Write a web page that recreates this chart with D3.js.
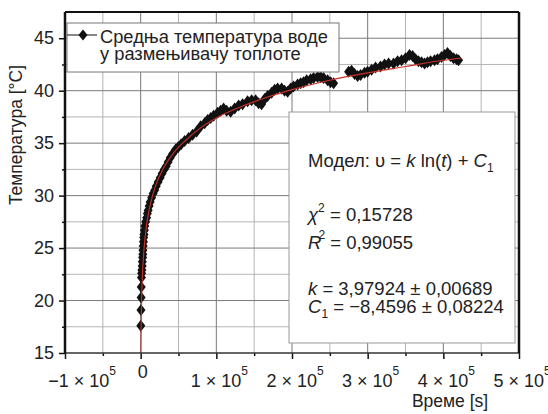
<!DOCTYPE html>
<html lang="sr">
<head>
<meta charset="UTF-8">
<title>Температура воде</title>
<style>
  body { margin: 0; background: #fff; }
  svg { display: block; font-family: "Liberation Sans", Arial, Helvetica, sans-serif; }
</style>
</head>
<body>
<svg id="chart"></svg>
<script src="https://cdnjs.cloudflare.com/ajax/libs/d3/7.8.5/d3.min.js"></script>
<script>

var timeData = [200, 400, 600, 800, 1000,
  1300, 1600, 2000, 2200, 2600, 2800, 3000, 3300, 3700, 4000, 4400, 4900, 5500, 6600, 7900,
  8900, 9900, 11200, 12500, 14500, 16500, 18500, 20500, 23100, 25800, 28400, 31100, 33700,
  36300, 39000, 42300, 46200, 49500, 53500, 58100, 63400, 68700, 74000,
  79300, 84500, 88500, 92500, 96400, 101700, 105700, 109600, 113600, 118900, 124200, 129500,
  134700, 141300, 146600, 151900, 155900, 159800, 163800, 167800, 173100, 177000, 181000,
  186300, 190200, 194200, 198200, 202100, 207400, 211400, 215300, 219300, 224600, 228500,
  233800, 237800, 241700, 247000, 251000, 255000,
  274800, 278700, 282700, 286700, 290600, 295900, 299900, 305200, 310400, 317000, 322300,
  327600, 334200, 339500, 344800, 350100, 355300, 359300, 363300, 367200, 371200, 375200,
  379100, 383100, 388400, 392300, 397600, 401600, 405500, 409500, 413500, 417400, 420100];
var tempData = [17.6, 19.1, 20.3, 21.3, 22.2,
  22.6, 22.9, 23.3, 23.7, 24.1, 24.4, 24.8, 25.2, 25.6, 26.0, 26.3, 26.7, 27.1, 27.5, 27.9,
  28.3, 28.6, 29.0, 29.4, 29.8, 30.2, 30.5, 30.9, 31.3, 31.7, 32.1, 32.5, 32.8,
  33.2, 33.6, 34.0, 34.4, 34.6, 34.9, 35.2, 35.5, 35.8, 36.1,
  36.6, 36.9, 37.2, 37.4, 37.6, 37.9, 38.1, 38.3, 38.1, 38.0, 38.3, 38.6,
  38.7, 39.0, 39.1, 39.1, 38.8, 38.7, 39.2, 39.5, 39.8, 40.1, 40.2,
  40.2, 40.0, 39.9, 40.2, 40.4, 40.6, 40.7, 40.8, 41.0, 41.1, 41.2,
  41.3, 41.3, 41.2, 41.0, 40.8, 40.7,
  41.8, 41.9, 41.6, 41.4, 41.5, 41.7, 41.8, 42.0, 42.2, 42.3, 42.5,
  42.6, 42.6, 42.8, 42.9, 43.1, 43.4, 43.3, 43.0, 42.8, 42.7, 42.6,
  42.7, 42.8, 42.9, 43.0, 43.2, 43.4, 43.6, 43.3, 43.1, 43.0, 42.9];

// fitted curve
var fitTime = [250, 500, 1000, 2000, 4000, 7000, 10000, 15000, 20000, 30000, 45000, 60000,
  80000, 100000, 130000, 160000, 200000, 250000, 300000, 350000, 400000, 423000];
var fitTemp = [13.5, 16.3, 19.0, 21.8, 24.5, 26.8, 28.2, 29.8, 31.0, 32.6, 34.2, 35.3,
  36.5, 37.4, 38.4, 39.2, 40.1, 41.0, 41.7, 42.3, 42.9, 43.1];

// axis ticks
var xMajor = [-100000, 0, 100000, 200000, 300000, 400000, 500000];
var xMinor = [-50000, 50000, 150000, 250000, 350000, 450000];
var xMantissa = ['\u22121', '0', '1', '2', '3', '4', '5'];
var yMajor = [15, 20, 25, 30, 35, 40, 45];
var yMinor = [17.5, 22.5, 27.5, 32.5, 37.5, 42.5];

var legendLines = ['Средња температура воде', 'у размењивачу топлоте'];

var svgWidth = 548, svgHeight = 414;
const margin = {top: 12, right: 29, bottom: 61, left: 65};
const width = svgWidth - margin.left - margin.right;
const height = svgHeight - margin.top - margin.bottom;

const svg = d3.select('#chart')
    .attr('width', svgWidth)
    .attr('height', svgHeight);

const g = svg.append('g')
    .attr('transform', 'translate(' + margin.left + ',' + margin.top + ')');

const xScale = d3.scaleLinear().domain([-100000, 500000]).range([0, width]);
const yScale = d3.scaleLinear().domain([15, 47.5]).range([height, 0]);

// grid, light minor lines first, darker major on top
g.append('g').selectAll('line')
    .data(xMinor).enter().append('line')
    .attr('x1', d => xScale(d)).attr('x2', d => xScale(d))
    .attr('y1', 0).attr('y2', height)
    .attr('stroke', '#b4b4b4').attr('stroke-width', 1);
g.append('g').selectAll('line')
    .data(yMinor).enter().append('line')
    .attr('x1', 0).attr('x2', width)
    .attr('y1', d => yScale(d)).attr('y2', d => yScale(d))
    .attr('stroke', '#b4b4b4').attr('stroke-width', 1);
g.append('g').selectAll('line')
    .data(xMajor.slice(1, -1)).enter().append('line')
    .attr('x1', d => xScale(d)).attr('x2', d => xScale(d))
    .attr('y1', 0).attr('y2', height)
    .attr('stroke', '#7a7a7a').attr('stroke-width', 1);
g.append('g').selectAll('line')
    .data(yMajor.slice(1)).enter().append('line')
    .attr('x1', 0).attr('x2', width)
    .attr('y1', d => yScale(d)).attr('y2', d => yScale(d))
    .attr('stroke', '#7a7a7a').attr('stroke-width', 1);

// clip for the data
g.append('clipPath').attr('id', 'plotClip')
    .append('rect').attr('width', width).attr('height', height);

const points = timeData.map((t, i) => [t, tempData[i]]);
const diamond = 'M0,-6L4.5,0L0,6L-4.5,0Z';

g.append('g')
    .attr('clip-path', 'url(#plotClip)')
    .selectAll('path')
    .data(points).enter().append('path')
    .attr('d', diamond)
    .attr('transform', d => `translate(${xScale(d[0])},${yScale(d[1])})`)
    .attr('fill', '#111');

// fit curve
const fitLine = d3.line()
    .x(d => xScale(d[0]))
    .y(d => yScale(d[1]))
    .curve(d3.curveMonotoneX);

g.append('path')
    .attr('clip-path', 'url(#plotClip)')
    .datum(fitTime.map((t, i) => [t, fitTemp[i]]))
    .attr('fill', 'none')
    .attr('stroke', '#c8322a')
    .attr('stroke-width', 1.1)
    .attr('d', fitLine);

// legend
const legend = g.append('g');
legend.append('rect')
    .attr('x', 2).attr('y', 11).attr('width', 272).attr('height', 49)
    .attr('fill', '#fff').attr('stroke', '#777').attr('stroke-width', 1);
legend.append('line')
    .attr('x1', 2).attr('x2', 32).attr('y1', 23).attr('y2', 23)
    .attr('stroke', '#111').attr('stroke-width', 1);
legend.append('path')
    .attr('d', 'M0,-5.5L4.5,0L0,5.5L-4.5,0Z')
    .attr('transform', 'translate(18,23)')
    .attr('fill', '#111');
legend.selectAll('text')
    .data(legendLines).enter().append('text')
    .attr('x', 35)
    .attr('y', (d, i) => 31 + i * 17)
    .attr('font-size', 18.3)
    .attr('fill', '#222')
    .text(d => d);

// fit statistics box
const stats = g.append('g').attr('transform', 'translate(224,100)');
stats.append('rect')
    .attr('width', 226).attr('height', 231)
    .attr('fill', '#fff').attr('stroke', '#999').attr('stroke-width', 1);

function statLine(y) {
    return stats.append('text').attr('x', 19).attr('y', y)
        .attr('font-size', 18.5).attr('fill', '#222');
}
let t1 = statLine(55);
t1.append('tspan').text('Модел: \u03C5 = ');
t1.append('tspan').attr('font-style', 'italic').text('k');
t1.append('tspan').text(' ln(');
t1.append('tspan').attr('font-style', 'italic').text('t');
t1.append('tspan').text(') + ');
t1.append('tspan').attr('font-style', 'italic').text('C');
t1.append('tspan').attr('font-size', 12).attr('dy', 5).text('1');

let t2 = statLine(109);
t2.append('tspan').attr('font-style', 'italic').text('\u03C7');
t2.append('tspan').attr('font-size', 12).attr('dy', -9).text('2');
t2.append('tspan').attr('dy', 9).text(' = 0,15728');

let t3 = statLine(137);
t3.append('tspan').attr('font-style', 'italic').text('R');
t3.append('tspan').attr('font-size', 12).attr('dx', -3).attr('dy', -10).text('2');
t3.append('tspan').attr('dy', 10).text(' = 0,99055');

let t4 = statLine(183);
t4.append('tspan').attr('font-style', 'italic').text('k');
t4.append('tspan').text(' = 3,97924 \u00B1 0,00689');

let t5 = statLine(201);
t5.append('tspan').attr('font-style', 'italic').text('C');
t5.append('tspan').attr('font-size', 12).attr('dy', 5).text('1');
t5.append('tspan').attr('dy', -5).text(' = \u22128,4596 \u00B1 0,08224');

// axes
const yAxis = g.append('g')
    .call(d3.axisLeft(yScale).tickValues(yMajor).tickSize(6).tickPadding(5)
        .tickFormat(d => d));
yAxis.select('.domain').remove();
yAxis.selectAll('text').attr('font-size', 18).attr('fill', '#222')
    .attr('font-family', '"Liberation Sans", Arial, sans-serif');
yAxis.selectAll('line').attr('stroke', '#111').attr('stroke-width', 1.5);

const yAxisMinor = g.append('g')
    .call(d3.axisLeft(yScale).tickValues(yMinor).tickSize(3).tickFormat(''));
yAxisMinor.select('.domain').remove();
yAxisMinor.selectAll('line').attr('stroke', '#111').attr('stroke-width', 1.5);

const xAxis = g.append('g')
    .attr('transform', `translate(0,${height})`)
    .call(d3.axisBottom(xScale).tickValues(xMajor).tickSize(6).tickFormat(''));
xAxis.select('.domain').remove();
xAxis.selectAll('line').attr('stroke', '#111').attr('stroke-width', 1.5);

const xAxisMinor = g.append('g')
    .attr('transform', `translate(0,${height})`)
    .call(d3.axisBottom(xScale).tickValues(xMinor).tickSize(3).tickFormat(''));
xAxisMinor.select('.domain').remove();
xAxisMinor.selectAll('line').attr('stroke', '#111').attr('stroke-width', 1.5);

// x tick labels with powers of ten
const xLabels = g.append('g').attr('font-size', 18).attr('fill', '#222');
xMajor.forEach((v, i) => {
    if (v === 0) {
        xLabels.append('text')
            .attr('x', xScale(v) + 2).attr('y', height + 25)
            .attr('text-anchor', 'middle')
            .text(xMantissa[i]);
        return;
    }
    const lbl = xLabels.append('text')
        .attr('x', xScale(v) + (i === 0 ? 17 : 3)).attr('y', height + 34)
        .attr('text-anchor', 'middle');
    lbl.append('tspan').text(xMantissa[i] + ' \u00D7 10');
    lbl.append('tspan').attr('font-size', 12).attr('dy', -12).text('5');
});

// frame
g.append('line').attr('x1', 0).attr('x2', width).attr('y1', height).attr('y2', height)
    .attr('stroke', '#333').attr('stroke-width', 1.5);
g.append('line').attr('x1', 0).attr('x2', width).attr('y1', 0).attr('y2', 0)
    .attr('stroke', '#111').attr('stroke-width', 2);
g.append('line').attr('x1', 0).attr('x2', 0).attr('y1', 0).attr('y2', height)
    .attr('stroke', '#111').attr('stroke-width', 2.5);
g.append('line').attr('x1', width).attr('x2', width).attr('y1', 0).attr('y2', height)
    .attr('stroke', '#111').attr('stroke-width', 2.5);

// axis titles
svg.append('text')
    .attr('transform', 'translate(22,135) rotate(-90)')
    .attr('text-anchor', 'middle')
    .attr('font-size', 17.5)
    .attr('fill', '#222')
    .text('Температура [°C]');

svg.append('text')
    .attr('x', 450).attr('y', 407)
    .attr('text-anchor', 'middle')
    .attr('font-size', 17.5)
    .attr('fill', '#222')
    .text('Време [s]');

</script>
</body>
</html>
